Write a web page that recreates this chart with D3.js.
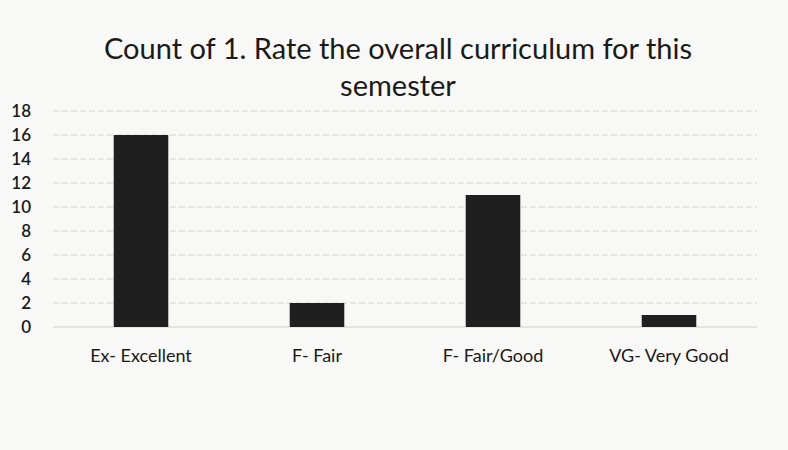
<!DOCTYPE html>
<html>
<head>
<meta charset="utf-8">
<script src="https://cdn.jsdelivr.net/npm/d3@7"></script>
<style>
    body { margin: 0; background: #f8f8f6; }
    svg { display: block; }
    text { font-family: Lato, "Open Sans", sans-serif; fill: #1a1a1a; }
</style>
</head>
<body>
<div id="chart"></div>
<script>
const categories = ['Ex- Excellent', 'F- Fair', 'F- Fair/Good', 'VG- Very Good']
const counts = [16, 2, 11, 1]
const yTicks = [0, 2, 4, 6, 8, 10, 12, 14, 16, 18]
const titleLines = ['Count of 1. Rate the overall curriculum for this', 'semester']

const width = 788, height = 450
const margin = { top: 111, right: 31, bottom: 123, left: 53 }

const svg = d3.select('#chart').append('svg')
    .attr('width', width)
    .attr('height', height)

const x = d3.scaleBand()
    .domain(categories)
    .range([margin.left, width - margin.right])
    .paddingInner(0.69)
    .paddingOuter(0.345)

const y = d3.scaleLinear()
    .domain([0, 18])
    .range([height - margin.bottom, margin.top])

// gridlines
svg.append('g')
    .selectAll('line')
    .data(yTicks.filter(d => d > 0))
    .join('line')
    .attr('x1', margin.left)
    .attr('x2', width - margin.right)
    .attr('y1', d => y(d))
    .attr('y2', d => y(d))
    .attr('stroke', '#d4d4d4')
    .attr('stroke-width', 1)
    .attr('stroke-dasharray', '6,3')

svg.append('line')
    .attr('x1', margin.left)
    .attr('x2', width - margin.right)
    .attr('y1', y(0))
    .attr('y2', y(0))
    .attr('stroke', '#d0d0d0')

// y axis labels
svg.append('g')
    .selectAll('text')
    .data(yTicks)
    .join('text')
    .attr('x', 31)
    .attr('y', d => y(d))
    .attr('dy', '0.35em')
    .attr('text-anchor', 'end')
    .attr('font-size', 17)
    .attr('font-weight', 600)
    .text(d => d)

// bars
svg.append('g')
    .selectAll('rect')
    .data(counts)
    .join('rect')
    .attr('x', (d, i) => x(categories[i]))
    .attr('width', x.bandwidth())
    .attr('y', d => y(d))
    .attr('height', d => y(0) - y(d))
    .attr('fill', '#1f1f1f')

// category labels
svg.append('g')
    .selectAll('text')
    .data(categories)
    .join('text')
    .attr('x', d => x(d) + x.bandwidth() / 2)
    .attr('y', 362)
    .attr('text-anchor', 'middle')
    .attr('font-size', 18)
    .text(d => d)

// title
svg.append('g')
    .selectAll('text')
    .data(titleLines)
    .join('text')
    .attr('x', 398)
    .attr('y', (d, i) => 59 + i * 37)
    .attr('text-anchor', 'middle')
    .attr('font-size', 29)
    .text(d => d)
</script>
</body>
</html>
